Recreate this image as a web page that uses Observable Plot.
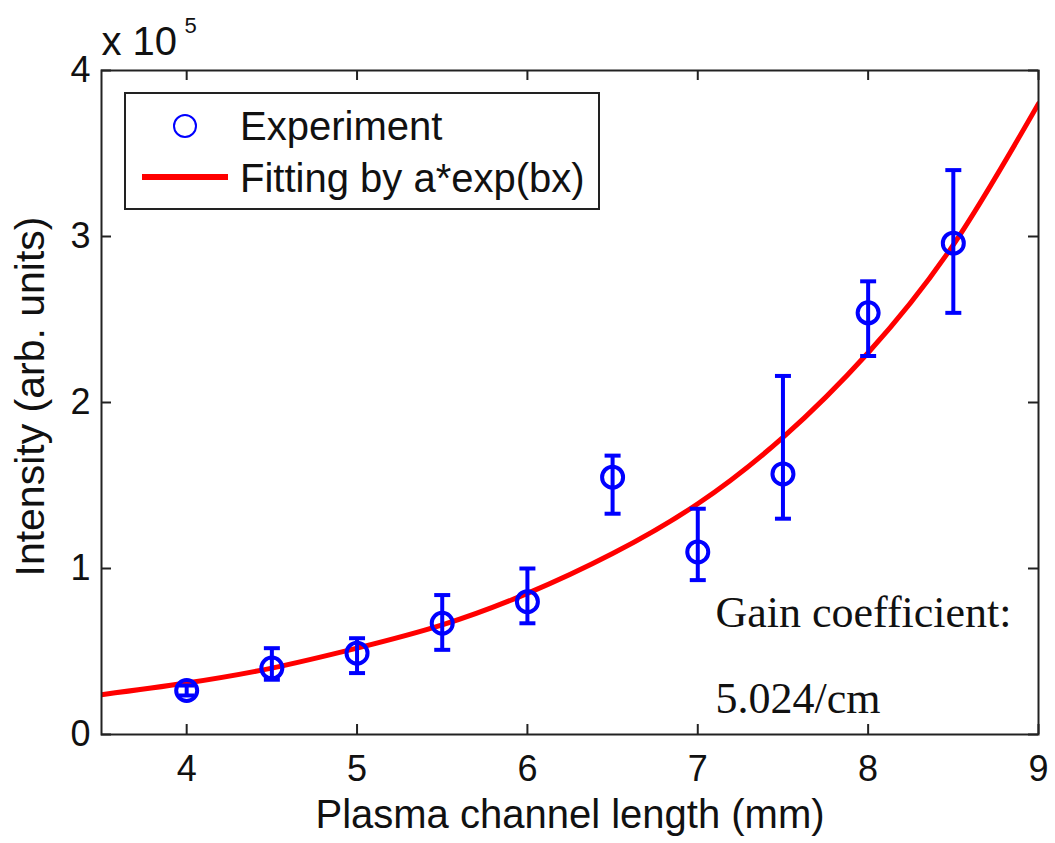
<!DOCTYPE html>
<html>
<head>
<meta charset="utf-8">
<script src="https://cdn.jsdelivr.net/npm/d3@7"></script>
<script src="https://cdn.jsdelivr.net/npm/@observablehq/plot@0.6"></script>
<style>
  html, body { margin: 0; padding: 0; background: #fff; }
  #wrap { position: relative; width: 1055px; height: 843px; }
  #legend { position: absolute; left: 0; top: 0; pointer-events: none; }
</style>
</head>
<body>
<div id="wrap"></div>
<script>
// Experimental data (intensity in arb. units)
const lengths = [4, 4.5, 5, 5.5, 6, 6.5, 7, 7.5, 8, 8.5];
const intensity = [26500, 40000, 49000, 67000, 80000, 155000, 110000, 157000, 254000, 296000];
const errLow = [23500, 33000, 37000, 51000, 67000, 133000, 93000, 130000, 228000, 254000];
const errHigh = [29500, 52000, 58000, 84000, 100000, 168000, 136000, 216000, 273000, 340000];

// Fitted curve a*exp(bx)
const fitX = [3.5, 4, 4.5, 5, 5.5, 6, 6.5, 7, 7.5, 8, 8.5, 9];
const fitY = [24000, 31000, 40000, 52000, 66000, 85000, 109000, 139000, 179000, 230000, 295000, 380000];

const xTicks = [4, 5, 6, 7, 8, 9];
const yTicks = [0, 100000, 200000, 300000, 400000];

const legendLabels = ["Experiment", "Fitting by a*exp(bx)"];
const gainLabel = "Gain coefficient:";
const gainValue = "5.024/cm";

const points = lengths.map((x, i) => ({x, y: intensity[i], lo: errLow[i], hi: errHigh[i]}));
const fit = fitX.map((x, i) => ({x, y: fitY[i]}));

const BLUE = "#0000ff", RED = "#ff0000";
const SANS = "Liberation Sans, Arial, sans-serif";
const SERIF = "Liberation Serif, Times New Roman, serif";
const W = 1055, H = 843, mL = 101, mR = 17, mT = 70, mB = 109;
const innerH = H - mT - mB, innerW = W - mL - mR;

const capSymbol = {
  draw(context, size) {
    const w = Math.sqrt(size / Math.PI);
    context.moveTo(-w, 0);
    context.lineTo(w, 0);
  }
};

const chart = Plot.plot({
  width: W,
  height: H,
  marginLeft: mL,
  marginRight: mR,
  marginTop: mT,
  marginBottom: mB,
  style: {fontFamily: SANS, background: "white", overflow: "visible"},
  x: {domain: [3.5, 9]},
  y: {domain: [0, 400000]},
  marks: [
    // inward ticks on all four sides
    Plot.tickX(xTicks, {x: d => d, insetTop: innerH - 10, stroke: "#222", strokeWidth: 2}),
    Plot.tickX(xTicks, {x: d => d, insetBottom: innerH - 10, stroke: "#222", strokeWidth: 2}),
    Plot.tickY(yTicks, {y: d => d, insetRight: innerW - 10, stroke: "#222", strokeWidth: 2}),
    Plot.tickY(yTicks, {y: d => d, insetLeft: innerW - 10, stroke: "#222", strokeWidth: 2}),
    Plot.axisX(xTicks, {tickSize: 0, tickPadding: 21, fontSize: 36, label: null, fill: "#111",
      tickFormat: d => String(d)}),
    Plot.axisY(yTicks, {tickSize: 0, tickPadding: 11, fontSize: 36, label: null, fill: "#111",
      tickFormat: d => String(d / 100000)}),
    // fitted curve
    Plot.line(fit, {x: "x", y: "y", stroke: RED, strokeWidth: 5, curve: "natural", clip: true}),
    // error bars
    Plot.ruleX(points, {x: "x", y1: "lo", y2: "hi", stroke: BLUE, strokeWidth: 4}),
    Plot.dot(points, {x: "x", y: "lo", symbol: capSymbol, r: 8, stroke: BLUE, strokeWidth: 4}),
    Plot.dot(points, {x: "x", y: "hi", symbol: capSymbol, r: 8, stroke: BLUE, strokeWidth: 4}),
    Plot.dot(points, {x: "x", y: "y", r: 10.5, stroke: BLUE, strokeWidth: 4, fill: "none"}),
    Plot.frame({stroke: "#222", strokeWidth: 2}),
    // annotations
    Plot.text([gainLabel], {frameAnchor: "bottom-right", dx: -323, dy: -122, textAnchor: "start",
      lineAnchor: "middle", fontSize: 44, fontFamily: SERIF, fill: "#111"}),
    Plot.text([gainValue], {frameAnchor: "bottom-right", dx: -323, dy: -36, textAnchor: "start",
      lineAnchor: "middle", fontSize: 44, fontFamily: SERIF, fill: "#111"}),
    // axis titles
    Plot.text(["Plasma channel length (mm)"], {frameAnchor: "bottom", dy: 81, lineAnchor: "middle",
      textAnchor: "middle", fontSize: 40, fill: "#111"}),
    Plot.text(["Intensity (arb. units)"], {frameAnchor: "left", dx: -71, dy: -6, rotate: -90,
      textAnchor: "middle", lineAnchor: "middle", fontSize: 41, fill: "#111"}),
    // exponent multiplier
    Plot.text(["x 10"], {frameAnchor: "top-left", dx: 0, dy: -28, textAnchor: "start", lineAnchor: "middle",
      fontSize: 40, fill: "#111"}),
    Plot.text(["5"], {frameAnchor: "top-left", dx: 83, dy: -45, textAnchor: "start", lineAnchor: "middle",
      fontSize: 22, fill: "#111"})
  ]
});

const wrap = document.getElementById("wrap");
wrap.appendChild(chart);

// Legend overlay (inside the plot area, top-left)
const ns = "http://www.w3.org/2000/svg";
const leg = document.createElementNS(ns, "svg");
leg.setAttribute("id", "legend");
leg.setAttribute("width", W);
leg.setAttribute("height", H);
const box = {x: 125, y: 93, w: 474, h: 116};
leg.innerHTML = `
  <rect x="${box.x}" y="${box.y}" width="${box.w}" height="${box.h}" fill="white" stroke="#222" stroke-width="2"/>
  <circle cx="185" cy="126" r="11" fill="none" stroke="${BLUE}" stroke-width="2"/>
  <line x1="142" x2="228" y1="177" y2="177" stroke="${RED}" stroke-width="6"/>
  <text x="240" y="140" font-family="${SANS}" font-size="40" fill="#111">${legendLabels[0]}</text>
  <text x="240" y="192" font-family="${SANS}" font-size="40" fill="#111">${legendLabels[1]}</text>
`;
wrap.appendChild(leg);
</script>
</body>
</html>
